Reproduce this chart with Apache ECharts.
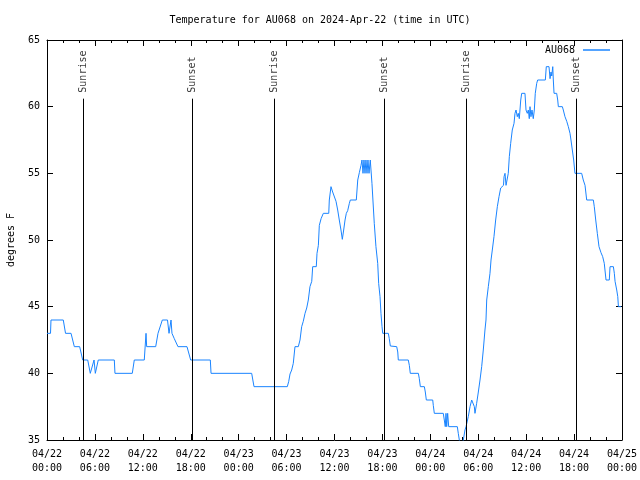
<!DOCTYPE html>
<html><head><meta charset="utf-8">
<script src="https://cdn.jsdelivr.net/npm/echarts@6/dist/echarts.min.js"></script>
<style>html,body{margin:0;padding:0;background:#fff}#c{width:640px;height:480px}</style>
</head><body><div id="c"></div>
<script>
// hours since 2024-04-22 00:00 UTC
const hours = [0.00,0.44,0.50,2.04,2.32,3.01,3.42,4.09,4.47,5.10,
5.42,5.63,5.89,6.05,6.42,8.43,8.51,10.68,10.93,12.18,
12.40,12.48,13.61,13.90,14.44,15.09,15.28,15.53,15.65,15.94,
16.40,17.53,17.99,20.45,20.54,25.63,25.92,30.09,30.27,30.43,
30.64,30.84,31.05,31.47,31.68,31.89,32.09,32.31,32.52,32.72,
32.93,33.15,33.27,33.72,33.81,33.98,34.10,34.32,34.60,35.28,
35.35,35.56,35.65,35.77,36.19,36.40,36.60,36.81,36.98,37.15,
37.32,37.48,37.65,37.86,37.98,38.73,38.91,39.11,39.32,39.44,
39.57,39.69,39.82,39.94,40.07,40.19,40.32,40.48,40.69,40.98,
41.19,41.41,41.53,41.70,41.82,41.95,42.04,42.74,42.86,42.99,
43.79,43.92,43.99,45.24,45.37,45.49,46.50,46.62,46.75,47.25,
47.37,47.50,48.30,48.37,48.50,49.62,49.75,49.87,49.96,50.05,
50.17,50.30,51.38,51.50,51.63,51.78,52.03,52.13,52.34,52.47,
52.63,52.75,52.97,53.18,53.38,53.51,53.59,53.80,54.01,54.22,
54.43,54.63,54.84,54.97,55.06,55.26,55.47,55.60,55.76,55.97,
56.18,56.39,56.60,56.81,56.94,57.16,57.23,57.35,57.48,57.64,
57.76,57.89,58.06,58.26,58.48,58.60,58.73,58.89,59.01,59.14,
59.32,59.44,59.85,59.98,60.14,60.27,60.39,60.48,60.60,60.73,
60.89,61.02,61.14,61.32,61.44,62.40,62.52,62.86,62.99,63.11,
63.20,63.33,63.40,63.49,63.82,63.95,64.03,64.53,64.65,64.86,
65.08,65.28,65.49,65.61,65.78,65.95,66.11,66.95,67.15,67.37,
67.58,68.41,68.53,68.71,68.91,69.12,69.37,69.58,69.78,70.00,
70.41,70.50,70.92,71.04,71.13,71.34,71.47,71.55,71.89];
const temps = [43,43,44,44,43,43,42,42,41,41,
40,40,41,40,41,41,40,40,41,41,
43,42,42,43,44,44,43,44,43,42.6,
42,42,41,41,40,40,39,39,39.4,39.95,
40.25,40.75,42,42,42.5,43.5,43.9,44.5,44.9,45.5,
46.5,46.9,48,48,49,49.6,51.1,51.6,52,52,
53,54,54,53.6,52.9,52.25,51.5,50.75,50.05,50.75,
51.5,52,52.2,52.75,53,53,54.5,55.05,55.6,56,
55,56,55,56,55,56,55,56,54.25,51.25,
49.5,48.25,46.75,45.75,44.5,43.5,43,43,42.6,42.05,
42,41.6,41,41,40.6,40,40,39.6,39,39,
38.6,38,38,37.6,37,37,36.5,36,37,36,
37,36,36,35.5,35,34,34,35,35.75,36,
36,36.75,37.5,38,38,37.5,37,37.75,38.6,39.5,
40.5,41.75,43.25,44,45.5,46.5,47.5,48.5,49.25,50.25,
51.5,52.5,53.25,53.9,54.05,54.1,54.75,55,54.1,54.1,
55,56.25,57.25,58.25,58.75,59.5,59.75,59.25,59.5,59.1,
60.5,61,61,59.75,59.5,59.75,59.1,60,59.25,59.75,
59.1,59.75,61,61.75,62,62,63,63,62.1,62.6,
62.3,63,62,61,61,60.5,60,60,59.75,59.25,
58.9,58.5,58,57.5,56.75,56,55,55,54.5,54.1,
53,53,52.5,51.5,50.5,49.5,49.05,48.75,48.25,47,
47,48,48,47.5,46.9,46.25,45.75,45,45];
const xTickLabels = ['04/22\n00:00','04/22\n06:00','04/22\n12:00','04/22\n18:00','04/23\n00:00','04/23\n06:00','04/23\n12:00','04/23\n18:00','04/24\n00:00','04/24\n06:00','04/24\n12:00','04/24\n18:00','04/25\n00:00'];
const sunHours = [4.55, 18.20, 28.47, 42.24, 52.51, 66.28];
const sunNames = ['Sunrise','Sunset','Sunrise','Sunset','Sunrise','Sunset'];
const sunLineTop = 60.6;

const FONT = 'DejaVu Sans Mono';
const FS = 10;
const LINE_COLOR = '#1a84ff';

const chart = echarts.init(document.getElementById('c'), null, {renderer: 'canvas'});
const data = hours.map((h, i) => [h, temps[i]]);
const tickCommon = {show: true, inside: true, length: 6, lineStyle: {color: '#000', width: 1}};
const minorCommon = {show: true, splitNumber: 3, length: 3, lineStyle: {color: '#000', width: 1}};

chart.setOption({
  animation: false,
  backgroundColor: '#fff',
  title: {
    text: 'Temperature for AU068 on 2024-Apr-22 (time in UTC)',
    left: 'center', top: 15, padding: [0, 0, 0, 29],
    textStyle: {fontFamily: FONT, fontSize: FS, fontWeight: 'normal', color: '#000'}
  },
  legend: {
    data: ['AU068'], right: 30, top: 45, align: 'right', icon: 'rect', padding: 0,
    itemWidth: 27, itemHeight: 1.5, itemGap: 0,
    textStyle: {fontFamily: FONT, fontSize: FS, color: '#000', padding: [0, 3, 0, 0]}
  },
  grid: {left: 47, right: 18, top: 40, bottom: 40, containLabel: false, outerBoundsMode: 'none'},
  xAxis: [{
    type: 'value', min: 0, max: 72, interval: 6, position: 'bottom',
    axisLine: {show: true, onZero: false, lineStyle: {color: '#000', width: 1}},
    axisTick: tickCommon, minorTick: minorCommon, splitLine: {show: false},
    axisLabel: {
      formatter: v => xTickLabels[Math.round(v / 6)],
      fontFamily: FONT, fontSize: FS, color: '#000', lineHeight: 14, margin: 7
    }
  }, {
    type: 'value', min: 0, max: 72, interval: 6, position: 'top',
    axisLine: {show: true, onZero: false, lineStyle: {color: '#000', width: 1}},
    axisTick: tickCommon, minorTick: minorCommon, splitLine: {show: false},
    axisLabel: {show: false}
  }],
  yAxis: [{
    type: 'value', min: 35, max: 65, interval: 5, position: 'left',
    name: 'degrees F', nameLocation: 'middle', nameGap: 31, nameRotate: 90,
    nameTextStyle: {fontFamily: FONT, fontSize: FS, color: '#000'},
    axisLine: {show: true, onZero: false, lineStyle: {color: '#000', width: 1}},
    axisTick: tickCommon, splitLine: {show: false},
    axisLabel: {fontFamily: FONT, fontSize: FS, color: '#000', margin: 7}
  }, {
    type: 'value', min: 35, max: 65, interval: 5, position: 'right',
    axisLine: {show: true, onZero: false, lineStyle: {color: '#000', width: 1}},
    axisTick: tickCommon, splitLine: {show: false},
    axisLabel: {show: false}
  }],
  series: [{
    name: 'AU068', type: 'line', data: data, showSymbol: false, symbol: 'none',
    clip: true, color: LINE_COLOR,
    lineStyle: {color: LINE_COLOR, width: 1},
    markLine: {
      silent: true, symbol: ['none', 'none'], animation: false,
      label: {show: false},
      lineStyle: {color: '#000', width: 1, type: 'solid'},
      data: sunHours.map(h => [{coord: [h, 35]}, {coord: [h, sunLineTop]}])
    }
  }, {
    name: 'sun', type: 'scatter', symbolSize: 0, silent: true,
    data: sunHours.map(h => [h, sunLineTop]),
    label: {
      show: true, position: 'top', distance: 6, rotate: 90,
      align: 'left', verticalAlign: 'middle',
      formatter: p => sunNames[p.dataIndex],
      fontFamily: FONT, fontSize: FS, color: '#000'
    }
  }]
});
</script>
</body></html>
